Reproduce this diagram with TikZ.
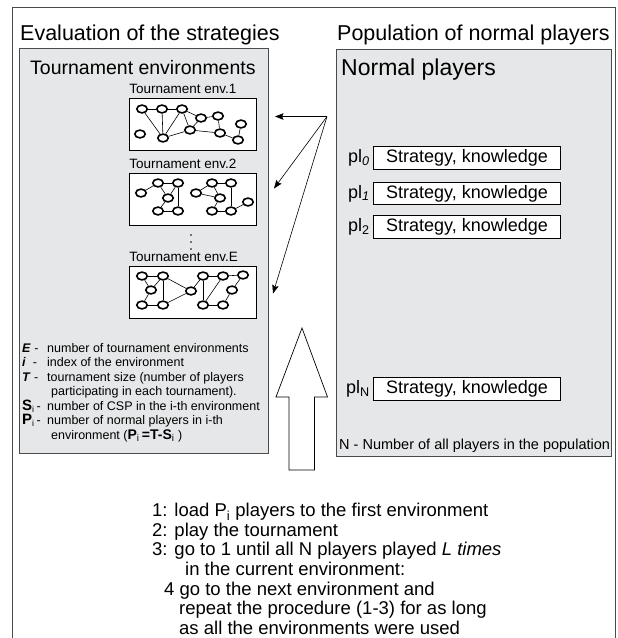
\documentclass[tikz,border=0pt]{standalone}
\usepackage{fontspec}
\setmainfont{Liberation Sans}
\usetikzlibrary{arrows.meta,positioning,shapes.geometric}
\definecolor{evpanel}{HTML}{E6E7E8}
\definecolor{evrule}{HTML}{4A4A4A}

\begin{document}
\begin{tikzpicture}[x=1pt,y=-1pt,
  frame/.style={draw=evrule,line width=0.7pt},
  panel/.style={draw=evrule,fill=evpanel,line width=0.8pt,inner sep=0pt,anchor=north west},
  netbox/.style={draw=black,fill=white,line width=0.8pt,minimum width=127pt,minimum height=52pt,inner sep=0pt},
  envlabel/.style={inner sep=0pt,font=\fontsize{13.5}{15}\selectfont},
  player/.style={ellipse,draw,fill=white,line width=1.6pt,minimum width=10.5pt,minimum height=7.8pt,inner sep=0pt},
  link/.style={line width=0.6pt},
  plbox/.style={draw,fill=white,line width=1.3pt,minimum width=187pt,minimum height=22.5pt,inner sep=0pt,font=\fontsize{18}{20}\selectfont},
  pllabel/.style={inner sep=0pt,font=\fontsize{18}{20}\selectfont},
  heading/.style={inner sep=0pt,anchor=base west,font=\fontsize{21.5}{24}\selectfont},
  pointer/.style={-{Stealth[length=8.5pt,width=6.5pt,inset=1.5pt]},line width=0.6pt}
]
\useasboundingbox (0,0) rectangle (618,638);
\draw[frame] (12,645) |- (615,7) -- (615,645);

% headings
\node[heading] (evaltitle) at (20,40) {Evaluation of the strategies};
\node[heading] (poptitle) at (337,40) {Population of normal players};

% left panel
\node[panel,minimum width=249pt,minimum height=405pt] (envpanel) at (19,48) {};
\node[heading,font=\fontsize{19.5}{22}\selectfont] (envtitle) at (30,74) {Tournament environments};

\node[netbox] (envone) at (193,124.5) {};
\node[netbox] (envtwo) at (193,199.5) {};
\node[netbox] (envlast) at (193,292) {};
\node[envlabel,above right=4pt and 0pt of envone.north west] (envonelbl) {Tournament env.1};
\node[envlabel,above right=4pt and 0pt of envtwo.north west] (envtwolbl) {Tournament env.2};
\node[envlabel,above right=4pt and 0pt of envlast.north west] (envlastlbl) {Tournament env.E};
\foreach \y in {235,242,249}
  \fill (191,\y) circle (0.8pt);

% env 1
\foreach \n/\x/\y in {a1/142/109,a2/162/109,a3/182/109,a4/201/118,a5/218/116,a6/241/124,
  a7/140/134,a8/163/138,a9/190/130,a10/220/133,a11/238/140}
  \node[player] (\n) at (\x,\y) {};
\foreach \u/\v in {a1/a2,a2/a3,a1/a8,a2/a8,a3/a8,a3/a4,a3/a9,a4/a5,a4/a9,a5/a10,a9/a10,a10/a11,a11/a6,a8/a9}
  \draw[link] (\u) -- (\v);

% env 2
\foreach \n/\x/\y in {b1/141/193,b2/158/183,b3/178/183,b4/168/198,b5/158/211,b6/178/211,b7/196/193,
  b8/212/183,b9/231/183,b10/220/198,b11/212/211,b12/231/211,b13/248/202}
  \node[player] (\n) at (\x,\y) {};
\foreach \u/\v in {b1/b2,b2/b3,b2/b4,b3/b4,b3/b6,b4/b5,b5/b6,b7/b8,b7/b10,b8/b9,b8/b10,b9/b12,b10/b11,b11/b12,b12/b13}
  \draw[link] (\u) -- (\v);

% env E
\foreach \n/\x/\y in {c1/142/276,c2/163/276,c3/151/290,c4/142/305,c5/163/305,c6/191/291,
  c7/203/276,c8/223/276,c9/243/275,c10/232/290,c11/203/305,c12/223/305}
  \node[player] (\n) at (\x,\y) {};
\foreach \u/\v in {c1/c2,c1/c3,c2/c3,c2/c5,c3/c4,c4/c5,c2/c6,c5/c6,c6/c7,c7/c8,c8/c9,c7/c11,c8/c11,c9/c10,c10/c12,c11/c12}
  \draw[link] (\u) -- (\v);

% legend
\node[inner sep=0pt,anchor=base west,font=\fontsize{12.5}{14.3}\selectfont] (legend) at (22,352.5) {%
  \begin{tabular}[t]{@{}p{25pt}@{}l@{}}
  \textbf{\textit{E}} - & number of tournament environments\\
  \textbf{\textit{i}}\ \ - & index of the environment\\
  \textbf{\textit{T}} - & tournament size (number of players\\
   & \hspace*{4pt}participating in each tournament).\\
  {\fontsize{15}{14}\selectfont\textbf{S}}\textsubscript{i}\,- & number of CSP in the i-th environment\\
  {\fontsize{15}{14}\selectfont\textbf{P}}\textsubscript{i}\,- & number of normal players in i-th\\
   & \hspace*{4pt}environment ({\fontsize{14}{14}\selectfont\textbf{P}\textsubscript{i}\,\textbf{=T-S}\textsubscript{i}} )
  \end{tabular}};

% right panel
\node[panel,minimum width=275pt,minimum height=407pt] (plpanel) at (336,49) {};
\node[heading,font=\fontsize{23}{26}\selectfont] (pltitle) at (341,75) {Normal players};

\node[plbox] (plzero) at (467,158) {Strategy, knowledge};
\node[plbox] (plone) at (467,193.5) {Strategy, knowledge};
\node[plbox] (pltwo) at (467,227) {Strategy, knowledge};
\node[plbox] (pllast) at (467,389) {Strategy, knowledge};
\node[pllabel,left=3pt of plzero] (plzerolbl) {pl\textsubscript{\itshape 0}};
\node[pllabel,left=3pt of plone] (plonelbl) {pl\textsubscript{\itshape 1}};
\node[pllabel,left=3pt of pltwo] (pltwolbl) {pl\textsubscript{2}};
\node[pllabel,left=3pt of pllast] (pllastlbl) {pl\textsubscript{N}};
\node[inner sep=0pt,anchor=base west,font=\fontsize{14.5}{16}\selectfont] (plnote) at (339,449)
  {N - Number of all players in the population};

% arrows into the environments
\coordinate (fan) at (327,116.5);
\coordinate (tipone) at (275,116.5);
\coordinate (tiptwo) at (274,188.5);
\coordinate (tiplast) at (273,293.5);
\draw[pointer] (fan) -- (tipone);
\draw[pointer] (fan) -- (tiptwo);
\draw[pointer] (fan) -- (tiplast);

% hollow upward arrow
\draw[line width=0.7pt,fill=white] (289,470) -- (289,397) -- (276,397) -- (302,328)
  -- (327.5,397) -- (314.5,397) -- (314.5,470) -- cycle;

% procedure
\node[inner sep=0pt,anchor=north west,align=left,font=\fontsize{18.5}{19.6}\selectfont] (steps) at (152,503) {%
  1: load P\textsubscript{i} players to the first environment\\
  2: play the tournament\\
  3: go to 1 until all N players played \textit{L times}\\
  \hspace*{33pt}in the current environment:\\
  \hspace*{12pt}4 go to the next environment and\\
  \hspace*{27pt}repeat the procedure (1-3) for as long\\
  \hspace*{27pt}as all the environments were used};
\end{tikzpicture}
\end{document}
